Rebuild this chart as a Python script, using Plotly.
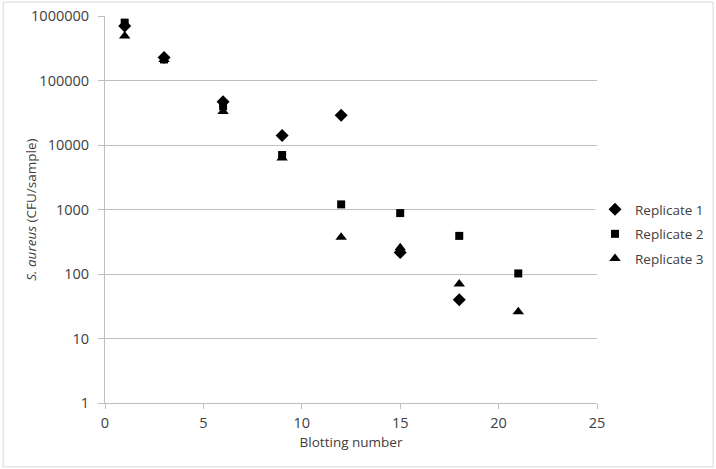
import plotly.graph_objects as go

# blotting number for each replicate
rep1_x = [1, 3, 6, 9, 12, 15, 18]
rep2_x = [1, 3, 6, 9, 12, 15, 18, 21]
rep3_x = [1, 3, 6, 9, 12, 15, 18, 21]

# S. aureus counts (CFU/sample)
rep1_y = [700000, 228000, 47000, 14000, 29000, 215, 40]
rep2_y = [790000, 212000, 40000, 7000, 1200, 880, 390, 102]
rep3_y = [490000, 212000, 33000, 6300, 370, 255, 70, 26]

y_ticks = [1, 10, 100, 1000, 10000, 100000, 1000000]
y_tick_text = ["1", "10", "100", "1000", "10000", "100000", "1000000"]
x_ticks = [0, 5, 10, 15, 20, 25]

FONT = "Open Sans"
GRID = "#bfbfbf"
TEXT = "#404040"

fig = go.Figure()

series = [
    ("Replicate 1", rep1_x, rep1_y, "diamond", 10),
    ("Replicate 2", rep2_x, rep2_y, "square", 8),
    ("Replicate 3", rep3_x, rep3_y, "triangle-up", 10),
]
for name, xs, ys, symbol, size in series:
    fig.add_trace(go.Scatter(x=xs, y=ys, mode="markers", name=name,
                             legendgroup=name,
                             marker=dict(symbol=symbol, size=size, color="black",
                                         line=dict(width=0))))

fig.update_layout(
    width=716, height=469,
    margin=dict(l=105, r=119, t=16, b=66, autoexpand=False),
    paper_bgcolor="white", plot_bgcolor="white",
    font=dict(family=FONT, size=13.5, color=TEXT),
    showlegend=True,
    # legend placed against the whole figure so it does not squeeze the plot
    legend=dict(xref="container", yref="container",
                x=0.831, xanchor="left", y=0.501, yanchor="middle",
                font=dict(size=13.5, color=TEXT),
                tracegroupgap=4, itemwidth=30),
)

fig.update_xaxes(range=[0, 25], tickvals=x_ticks, showgrid=False,
                 showline=True, linecolor=GRID, linewidth=1,
                 ticks="outside", ticklen=5, tickcolor=GRID,
                 ticklabelstandoff=2, tickfont=dict(size=14.5, color=TEXT),
                 zeroline=False, automargin=False,
                 title=dict(text="Blotting number", standoff=6,
                            font=dict(size=13.5, color=TEXT)))

fig.update_yaxes(type="log", range=[0, 6], tickvals=y_ticks, ticktext=y_tick_text,
                 showgrid=True, gridcolor=GRID, gridwidth=1,
                 showline=True, linecolor=GRID, linewidth=1,
                 ticks="outside", ticklen=6, tickcolor=GRID,
                 ticklabelstandoff=6, tickfont=dict(size=14.5, color=TEXT),
                 zeroline=False, automargin=False)

# y title as an annotation so it sits where the original has it
fig.add_annotation(text="<i>S. aureus</i> (CFU/sample)", textangle=-90,
                   xref="paper", yref="paper", x=-0.152, y=0.5,
                   xanchor="center", yanchor="middle",
                   showarrow=False, font=dict(size=13.5, color=TEXT))

# thin frame around the whole chart
fig.add_shape(type="rect", xref="paper", yref="paper",
              x0=-0.207, x1=1.236, y0=-0.165, y1=1.036,
              line=dict(color="#d9d9d9", width=1))

# no page margin and no scrollbars, so the figure sits at (0, 0) at full size
page_css = ("document.documentElement.style.overflow='hidden';"
            "document.body.style.margin='0';"
            "document.body.style.overflow='hidden';")
fig.write_html("out.html", config={"displayModeBar": False}, post_script=page_css)
